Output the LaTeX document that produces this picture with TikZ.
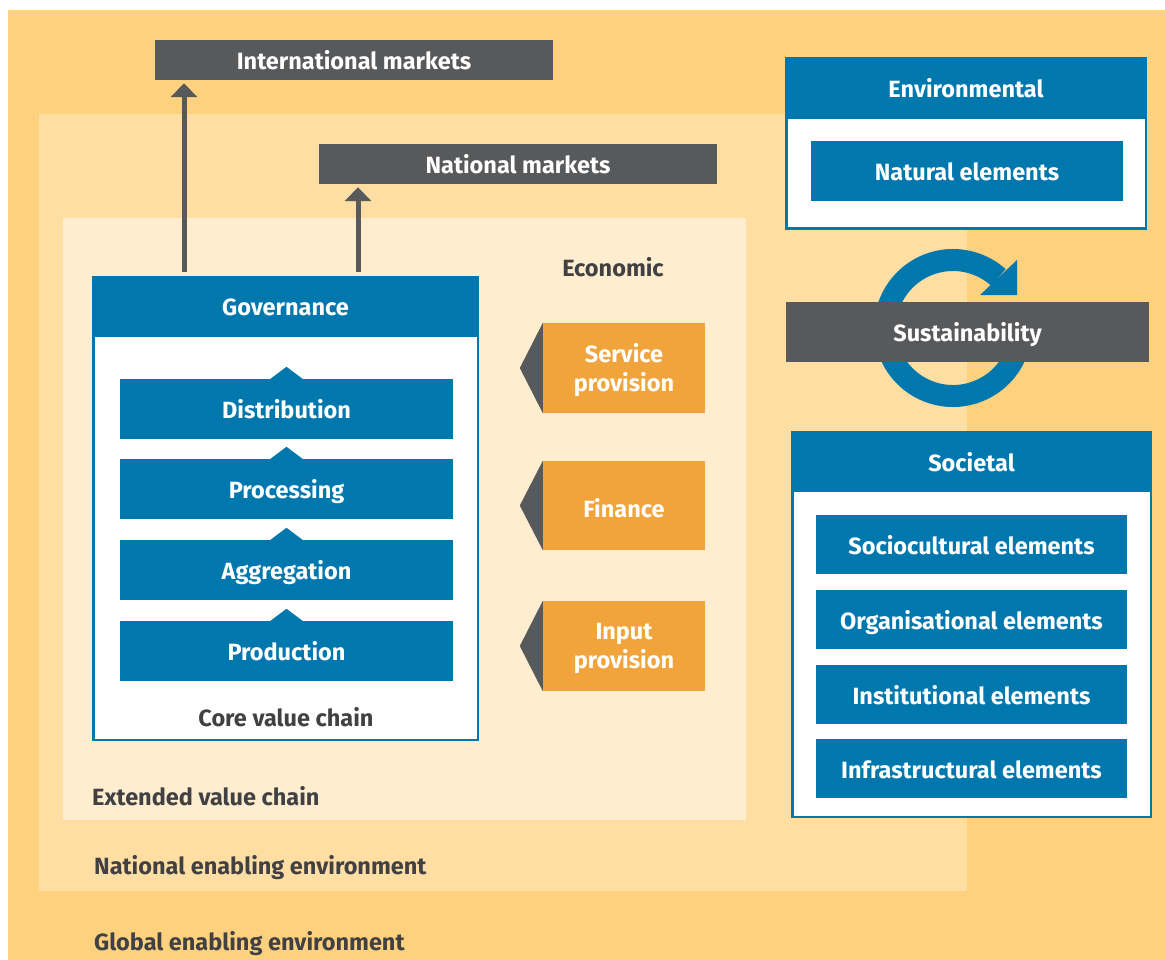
\documentclass[tikz,border=0pt]{standalone}
\usepackage{fontspec}
\setmainfont{Fira Sans}
\usetikzlibrary{arrows.meta}
\definecolor{bgouter}{HTML}{FDD17E}
\definecolor{bgnat}{HTML}{FEDEA2}
\definecolor{bgext}{HTML}{FEEECF}
\definecolor{vblue}{HTML}{0078AD}
\definecolor{vgray}{HTML}{58595B}
\definecolor{vorange}{HTML}{F1A43B}
\definecolor{vdark}{HTML}{414042}
\newcommand{\dfont}{\fontsize{23.5}{28}\selectfont\bfseries}
\tikzset{
  lbl/.style={font=\dfont, text=vdark, inner sep=0pt},
  onel/.style={text height=19pt, text depth=0pt},
  graybox/.style={fill=vgray, text=white, font=\dfont, inner sep=0pt, onel, minimum width=398pt, minimum height=40pt},
  bluebox/.style={fill=vblue, text=white, font=\dfont, inner sep=0pt, onel},
  frame/.style={draw=vblue, line width=2.5pt, fill=white, inner sep=0pt},
  orbox/.style={fill=vorange, inner sep=0pt, minimum width=162pt},
  ortext/.style={text=white, font=\fontsize{23.5}{29}\selectfont\bfseries, inner sep=0pt, align=center},
  upar/.style={draw=vgray, line width=5pt, -{Triangle[width=26pt,length=14pt]}},
}
\begin{document}
\begin{tikzpicture}[x=1pt,y=-1pt]
\useasboundingbox (0,0) rectangle (1165,960);
\fill[white] (0,0) rectangle (1165,960);
% layered backgrounds
\fill[bgouter] (8,10) rectangle (1165,960);
\fill[bgnat] (39,114) rectangle (967,891);
\fill[bgext] (63,218) rectangle (746,820);

% markets
\node[graybox] (intl) at (354,60) {International markets};
\node[graybox] (natm) at (518,164) {National markets};

% core value chain frame
\node[frame, minimum width=384.5pt, minimum height=462.5pt] (core) at (285.5,508.5) {};
\node[bluebox, minimum width=387pt, minimum height=61pt] (gov) at (285.5,306.5) {Governance};
\coordinate (a1x) at (184,0);
\coordinate (a2x) at (358,0);
\draw[upar, shorten <=4pt, shorten >=3pt] (gov.north -| a1x) -- (intl.south -| a1x);
\draw[upar, shorten <=4pt, shorten >=3pt] (gov.north -| a2x) -- (natm.south -| a2x);

\foreach \n/\t/\y in {dist/Distribution/409, proc/Processing/489, aggr/Aggregation/570, prod/Production/651}{
  \node[bluebox, minimum width=333pt, minimum height=60pt] (\n) at (286.5,\y) {\t};
  \fill[vblue] ([xshift=-16pt]\n.north) -- ++(16,-12) -- ++(16,12) -- cycle;
}
\node[lbl] (cvc) at (286,717) {Core value chain};

% economic
\node[lbl] (econ) at (613,267) {Economic};
\foreach \n/\t/\y/\h in {serv/{Service\\provision}/368/90, fin/Finance/505.5/89, inp/{Input\\provision}/646/90}{
  \node[orbox, minimum height=\h pt] (\n) at (624,\y) {};
  \node[ortext] (\n t) at (624,\y+2.5) {\t};
  \fill[vgray] (\n.north west) -- ([xshift=-23pt]\n.west) -- (\n.south west) -- cycle;
}

% environment labels
\node[lbl, anchor=west] (evc) at (92,796) {Extended value chain};
\node[lbl, anchor=west] (nee) at (94,868) {National enabling environment};
\node[lbl, anchor=west] (gee) at (94,944) {Global enabling environment};

% environmental
\node[frame, minimum width=359.5pt, minimum height=170.5pt] (envf) at (966,143.5) {};
\node[bluebox, minimum width=362pt, minimum height=62pt] (env) at (966,88) {Environmental};
\node[bluebox, minimum width=312pt, minimum height=60pt] (nat) at (967,171) {Natural elements};

% sustainability cycle
\draw[vblue, line width=22pt] (953,328) ++(20:68) arc[start angle=20, end angle=312, radius=68];
\fill[vblue] (1017,260) -- (1017,295) -- (980,295) -- cycle;
\node[fill=vgray, text=white, font=\dfont, inner sep=0pt, onel, minimum width=363pt, minimum height=60pt] (sus) at (967.5,332) {Sustainability};

% societal
\node[frame, minimum width=358.5pt, minimum height=384.5pt] (socf) at (971.5,624.5) {};
\node[bluebox, minimum width=361pt, minimum height=61pt] (soc) at (971.5,461.5) {Societal};
\foreach \n/\t/\y in {sc/Sociocultural elements/544.5, org/Organisational elements/619.5, inst/Institutional elements/694.5, infr/Infrastructural elements/768.5}{
  \node[bluebox, minimum width=311pt, minimum height=59pt] (\n) at (971.5,\y) {\t};
}
\end{tikzpicture}
\end{document}
